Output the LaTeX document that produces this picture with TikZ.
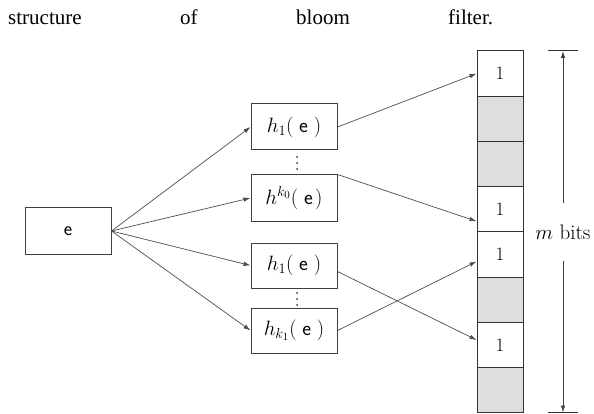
\documentclass[tikz,border=0pt]{standalone}
\usepackage{fontspec}
\newfontfamily\titlefont{Liberation Serif}
\usetikzlibrary{arrows.meta}
\begin{document}
\begin{tikzpicture}[x=1pt,y=-1pt,
  title/.style={anchor=base west, inner sep=0pt, font=\titlefont\fontsize{21}{24}\selectfont},
  box/.style={draw=black!75, line width=1pt, minimum width=86pt, minimum height=46pt, inner sep=0pt, font=\fontsize{21}{24}\selectfont},
  cell/.style={draw=black!80, line width=1pt, minimum width=46pt, minimum height=45.2pt, inner sep=0pt, font=\fontsize{19}{22}\selectfont},
  shaded/.style={fill=black!13},
  conn/.style={draw=black!70, line width=0.7pt, -{Latex[length=7pt,width=4.5pt]}},
  dim/.style={draw=black!75, line width=0.8pt, -{Latex[length=7pt,width=4.5pt]}},
  tick/.style={draw=black!80, line width=1pt},
  dot/.style={circle, fill=black!80, inner sep=0pt, minimum size=2pt},
]
\useasboundingbox (0,0) rectangle (594,414);
% title
\node[title] (t1) at (8,25) {structure};
\node[title] (t2) at (180,25) {of};
\node[title] (t3) at (296,25) {bloom};
\node[title] (t4) at (448,25) {filter.};
% element
\node[box, font=\fontsize{20}{22}\selectfont] (e) at (68,231) {\textsf{e}};
% hash boxes
\node[box] (h1) at (294,127) {$h_1(\;$\textsf{e}$\;)$};
\node[box] (h2) at (294,198) {$h^{k_0}(\;$\textsf{e}{\footnotesize.}$)$};
\node[box, minimum height=45pt] (h3) at (294,265.5) {$h_1(\;$\textsf{e}$\;)$};
\node[box, minimum height=45pt] (h4) at (294,330.5) {$h_{k_1}(\;$\textsf{e}$\;)$};
% vertical dots
\node[dot] (d1a) at (297,157) {};
\node[dot] (d1b) at (297,163) {};
\node[dot] (d1c) at (297,169) {};
\node[dot] (d2a) at (297,293) {};
\node[dot] (d2b) at (297,299) {};
\node[dot] (d2c) at (297,305) {};
% bit cells
\node[cell] (c1) at (500,73.6) {1};
\node[cell, shaded] (c2) at (500,118.8) {};
\node[cell, shaded] (c3) at (500,164) {};
\node[cell] (c4) at (500,209.3) {1};
\node[cell] (c5) at (500,254.5) {1};
\node[cell, shaded] (c6) at (500,299.7) {};
\node[cell] (c7) at (500,345) {1};
\node[cell, shaded] (c8) at (500,390.2) {};
% connectors
\draw[conn] (e.east) -- (h1.west);
\draw[conn] (e.east) -- (h2.west);
\draw[conn] (e.east) -- (h3.west);
\draw[conn] (e.east) -- (h4.west);
\draw[conn] (h1.east) -- (c1.west);
\draw[conn] (h2.north east) -- ([yshift=-12pt]c4.west);
\draw[conn] ([yshift=-6pt]h3.east) -- ([yshift=5pt]c7.west);
\draw[conn] (h4.east) -- ([yshift=-7pt]c5.west);
% dimension
\coordinate (dtop) at (563,51);
\coordinate (dbot) at (563,412.5);
\coordinate (tl) at (548,51);
\coordinate (tr) at (578,51);
\coordinate (bl) at (548,412.5);
\coordinate (br) at (578,412.5);
\draw[tick] (tl) -- (tr);
\draw[tick] (bl) -- (br);
\node[inner sep=0pt, minimum height=57pt, font=\fontsize{21}{24}\selectfont] (mb) at (563,232) {$m$ bits};
\draw[dim] (mb.north) -- (dtop);
\draw[dim] (mb.south) -- (dbot);
\end{tikzpicture}
\end{document}
